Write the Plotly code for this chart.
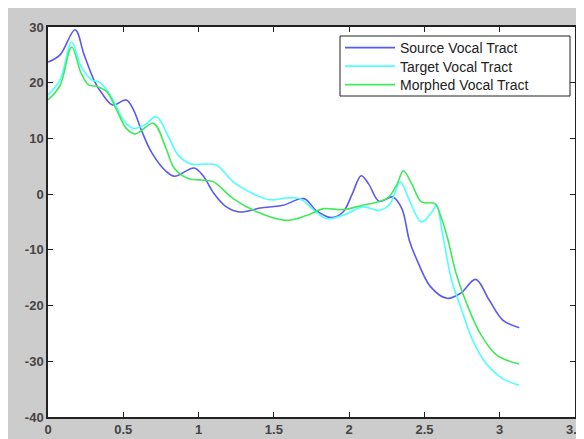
import plotly.graph_objects as go

# Source Vocal Tract
src_x = [0.0, 0.08, 0.18, 0.24, 0.31, 0.36, 0.43, 0.52, 0.57, 0.62, 0.69, 0.78, 0.84, 0.97, 1.03, 1.10, 1.18, 1.27, 1.41, 1.56, 1.70, 1.78, 1.88, 1.96, 2.02, 2.08, 2.13, 2.20, 2.29, 2.35, 2.40, 2.45, 2.54, 2.65, 2.74, 2.84, 2.93, 3.02, 3.13]
src_y = [23.7, 25.0, 29.5, 25.0, 20.2, 18.0, 16.0, 16.9, 15.0, 11.5, 7.4, 4.2, 3.2, 4.7, 3.3, 0.2, -2.2, -3.2, -2.5, -2.0, -0.8, -2.9, -4.2, -3.2, 0.0, 3.3, 1.8, -1.3, -0.5, -2.6, -8.3, -11.8, -16.6, -18.7, -17.8, -15.3, -19.0, -22.6, -24.0]

# Target Vocal Tract
tgt_x = [0.0, 0.08, 0.157, 0.22, 0.29, 0.345, 0.42, 0.50, 0.565, 0.64, 0.72, 0.80, 0.865, 0.95, 1.04, 1.12, 1.23, 1.36, 1.47, 1.58, 1.67, 1.78, 1.85, 1.96, 2.09, 2.20, 2.27, 2.34, 2.40, 2.48, 2.55, 2.58, 2.62, 2.68, 2.74, 2.82, 2.91, 3.02, 3.13]
tgt_y = [17.8, 20.5, 27.3, 22.9, 20.5, 20.0, 17.5, 13.3, 11.8, 12.4, 13.9, 10.3, 7.0, 5.4, 5.4, 5.2, 2.2, 0.1, -1.0, -0.7, -0.8, -3.2, -4.4, -3.8, -2.3, -2.9, -1.8, 2.2, -1.1, -5.0, -3.2, -2.0, -7.1, -15.4, -20.2, -26.2, -30.4, -33.1, -34.3]

# Morphed Vocal Tract
mor_x = [0.0, 0.08, 0.157, 0.22, 0.27, 0.33, 0.39, 0.456, 0.52, 0.58, 0.70, 0.78, 0.84, 0.93, 1.04, 1.10, 1.23, 1.39, 1.58, 1.72, 1.83, 1.96, 2.09, 2.20, 2.26, 2.32, 2.36, 2.415, 2.48, 2.57, 2.61, 2.65, 2.71, 2.78, 2.87, 2.98, 3.13]
mor_y = [16.9, 19.5, 26.4, 21.7, 19.6, 19.3, 18.4, 15.1, 11.8, 10.8, 12.7, 8.5, 4.6, 2.8, 2.5, 2.2, -0.8, -3.2, -4.7, -3.8, -2.6, -2.8, -2.0, -1.3, -0.6, 1.9, 4.2, 1.9, -1.4, -1.7, -4.1, -7.5, -14.2, -19.6, -25.0, -28.9, -30.5]

# Tick labels
x_ticks = [0, 0.5, 1, 1.5, 2, 2.5, 3, 3.5]
x_ticklabels = ["0", "0.5", "1", "1.5", "2", "2.5", "3", "3.5"]
y_ticks = [-40, -30, -20, -10, 0, 10, 20, 30]
y_ticklabels = ["-40", "-30", "-20", "-10", "0", "10", "20", "30"]

names = ["Source Vocal Tract", "Target Vocal Tract", "Morphed Vocal Tract"]
colors = ["#5a5af2", "#4dffff", "#40ea5a"]
legend_ids = ["legend", "legend2", "legend3"]

fig = go.Figure()
for xs, ys, nm, c, lg in zip([src_x, tgt_x, mor_x], [src_y, tgt_y, mor_y], names, colors, legend_ids):
    fig.add_trace(go.Scatter(x=xs, y=ys, mode="lines", name=nm, legend=lg,
                             line=dict(color=c, width=1.6, shape="spline", smoothing=1.0)))

# page is offset by the 8px body margin
W, H = 576, 431
ml, mr, mt, mb = 40, 9, 19, 22
pw, ph = W - ml - mr, H - mt - mb
gray = "#cccccc"

def pxx(p):  # page x pixel -> paper fraction
    return (p - 48) / pw

def pxy(p):  # page y pixel -> paper fraction
    return (417 - p) / ph

axis_common = dict(showline=True, linecolor="#222222", linewidth=1.5, mirror="ticks",
                   ticks="inside", ticklen=5, tickcolor="#222222", showgrid=False, zeroline=False,
                   automargin=False, ticklabeloverflow="allow",
                   tickfont=dict(family="Liberation Sans, Arial", size=13, color="#444444", weight="bold"))

legend_box = dict(type="rect", xref="paper", yref="paper", layer="above",
                  x0=pxx(340), x1=pxx(570), y0=pxy(96), y1=pxy(36),
                  fillcolor="white", line=dict(color="#222222", width=1))

def legend_at(page_y):
    return dict(x=pxx(340), y=pxy(page_y), xanchor="left", yanchor="middle",
                bgcolor="rgba(0,0,0,0)", borderwidth=0,
                font=dict(family="Liberation Sans, Arial", size=14, color="#222222"),
                itemwidth=50)

fig.update_layout(
    width=W, height=H,
    margin=dict(l=ml, r=mr, t=mt, b=mb),
    paper_bgcolor=gray, plot_bgcolor="white",
    shapes=[legend_box],
    showlegend=True,
    legend=legend_at(48),
    legend2=legend_at(66.5),
    legend3=legend_at(85),
    xaxis=dict(range=[0, 3.5], tickvals=x_ticks, ticktext=x_ticklabels, **axis_common),
    yaxis=dict(range=[-40, 30], tickvals=y_ticks, ticktext=y_ticklabels, **axis_common),
)

fig.write_html("out.html", post_script="document.body.style.overflow='hidden';")
